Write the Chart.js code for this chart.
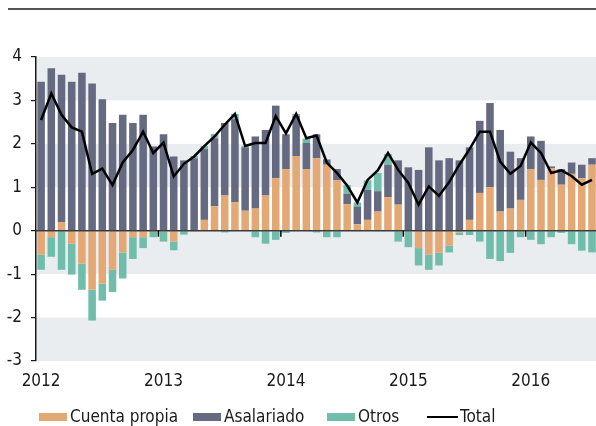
<!DOCTYPE html>
<html>
<head>
<meta charset="utf-8">
<script src="https://cdn.jsdelivr.net/npm/chart.js@4"></script>
<style>
  body { margin: 0; background: #fff; overflow: hidden; width: 596px; height: 426px; position: relative; }
  #chart { position: absolute; left: 0; top: 0; }
  .legend { position: absolute; top: 405px; left: 0; height: 22px; font-family: "Liberation Sans Narrow", "DejaVu Sans Condensed", Roboto, sans-serif; font-size: 17px; color: #1a1a1a; }
  .item { position: absolute; top: 0; display: flex; align-items: center; height: 22px; white-space: nowrap; }
  .box { width: 28px; height: 8px; margin-right: 3px; margin-top: 2px; }
  .ln { width: 31px; height: 2.5px; background: #000; margin-right: 2px; margin-top: 2px; }
</style>
</head>
<body>
<canvas id="chart" width="602" height="426"></canvas>
<div class="legend">
  <div class="item" style="left:39px"><span class="box" style="background:#e4a874"></span>Cuenta propia</div>
  <div class="item" style="left:193px"><span class="box" style="background:#656a80"></span>Asalariado</div>
  <div class="item" style="left:327px"><span class="box" style="background:#70bdac"></span>Otros</div>
  <div class="item" style="left:427px"><span class="ln"></span>Total</div>
</div>
<script>
const years = ['2012', '2013', '2014', '2015', '2016'];
const monthsInLastYear = 7;

// monthly contributions, Jan 2012 .. Jul 2016
const cuentaPropia = [
  -0.55, -0.15, 0.2, -0.3, -0.76, -1.36, -1.22, -0.9, -0.5, -0.15, -0.15, -0.03,
  -0.02, -0.25, 0, -0.02, 0.25, 0.56, 0.81, 0.66, 0.46, 0.51, 0.81, 1.21,
  1.42, 1.72, 1.42, 1.67, 1.52, 1.16, 0.61, 0.15, 0.25, 0.44, 0.77, 0.6,
  -0.02, -0.4, -0.55, -0.51, -0.34, -0.04, 0.25, 0.87, 1.0, 0.44, 0.51, 0.71,
  1.42, 1.17, 1.44, 1.06, 1.31, 1.21, 1.52
];
const asalariado = [
  3.43, 3.74, 3.39, 3.43, 3.64, 3.39, 3.03, 2.48, 2.67, 2.48, 2.67, 1.94,
  2.22, 1.71, 1.62, 1.67, 1.63, 1.57, 1.67, 1.91, 1.46, 1.66, 1.51, 1.67,
  0.8, 0.93, 0.6, 0.55, 0.12, 0.26, 0.24, 0.41, 0.69, 0.47, 0.75, 1.02,
  1.46, 1.4, 1.92, 1.62, 1.67, 1.62, 1.67, 1.66, 1.94, 1.88, 1.31, 0.96,
  0.75, 0.9, 0.04, 0.36, 0.26, 0.31, 0.15
];
const otros = [
  -0.35, -0.45, -0.9, -0.71, -0.6, -0.71, -0.39, -0.51, -0.6, -0.5, -0.25, -0.12,
  -0.23, -0.2, -0.09, 0.05, 0.07, 0.1, -0.04, 0.12, 0.03, -0.15, -0.3, -0.21,
  -0.05, 0.04, 0.1, -0.04, -0.15, -0.15, 0.2, 0.09, 0.22, 0.42, 0.25, -0.25,
  -0.36, -0.4, -0.35, -0.29, -0.16, -0.06, -0.1, -0.25, -0.65, -0.7, -0.51, -0.15,
  -0.21, -0.31, -0.15, -0.05, -0.31, -0.46, -0.5
];
const total = [
  2.55, 3.16, 2.67, 2.38, 2.28, 1.31, 1.43, 1.05, 1.57, 1.86, 2.28, 1.79,
  2.03, 1.25, 1.54, 1.71, 1.95, 2.17, 2.44, 2.69, 1.95, 2.02, 2.02, 2.64,
  2.24, 2.69, 2.13, 2.19, 1.57, 1.33, 1.04, 0.65, 1.17, 1.39, 1.79, 1.4,
  1.1, 0.6, 1.02, 0.8, 1.12, 1.52, 1.88, 2.28, 2.28, 1.59, 1.31, 1.49,
  2.03, 1.79, 1.33, 1.39, 1.26, 1.06, 1.17
];

const labels = [];
years.forEach((y, yi) => {
  const n = yi === years.length - 1 ? monthsInLastYear : 12;
  for (let m = 1; m <= n; m++) labels.push(y + '-' + String(m).padStart(2, '0'));
});

const FONT = '"Liberation Sans Narrow", "DejaVu Sans Condensed", Roboto, sans-serif';
Chart.defaults.font.family = FONT;
Chart.defaults.font.size = 17;
Chart.defaults.color = '#1a1a1a';

// grey bands behind the plot
const bandsPlugin = {
  id: 'bands',
  beforeDraw(chart) {
    const {ctx, chartArea, scales: {y}} = chart;
    ctx.save();
    ctx.fillStyle = '#eaedf0';
    [[3, 4], [1, 2], [-1, 0], [-3, -2]].forEach(([a, b]) => {
      const top = y.getPixelForValue(b), bot = y.getPixelForValue(a);
      ctx.fillRect(chartArea.left, top, chartArea.right - chartArea.left, bot - top);
    });
    ctx.restore();
  }
};

// zero line, year ticks and top rule
const extrasPlugin = {
  id: 'extras',
  afterDatasetsDraw(chart) {
    const {ctx, chartArea, scales: {x, y}} = chart;
    const y0 = y.getPixelForValue(0);
    ctx.save();
    ctx.strokeStyle = '#3a3a3a';
    ctx.lineWidth = 1.5;
    ctx.beginPath();
    ctx.moveTo(chartArea.left, y0);
    ctx.lineTo(chartArea.right, y0);
    ctx.stroke();
    ctx.strokeStyle = '#000';
    ctx.lineWidth = 1.5;
    for (let i = 12; i < labels.length; i += 12) {
      const xp = (x.getPixelForValue(i - 1) + x.getPixelForValue(i)) / 2;
      ctx.beginPath();
      ctx.moveTo(xp, y0);
      ctx.lineTo(xp, y0 + 6);
      ctx.stroke();
    }
    ctx.restore();
  },
  afterDraw(chart) {
    const ctx = chart.ctx;
    ctx.save();
    ctx.strokeStyle = '#1a1a1a';
    ctx.lineWidth = 1.5;
    ctx.beginPath();
    ctx.moveTo(8, 9);
    ctx.lineTo(chart.width, 9);
    ctx.stroke();
    ctx.restore();
  }
};

const barOpts = {barPercentage: 0.74, categoryPercentage: 1.0, stack: 'emp', order: 1, borderWidth: 0};

new Chart(document.getElementById('chart').getContext('2d'), {
  type: 'bar',
  data: {
    labels: labels,
    datasets: [
      {label: 'Total', type: 'line', data: total, borderColor: '#000', borderWidth: 2.5,
       pointRadius: 0, tension: 0, fill: false, stack: 'total', order: 0},
      {label: 'Cuenta propia', data: cuentaPropia, backgroundColor: '#e4a874', ...barOpts},
      {label: 'Asalariado', data: asalariado, backgroundColor: '#656a80', ...barOpts},
      {label: 'Otros', data: otros, backgroundColor: '#70bdac', ...barOpts}
    ]
  },
  options: {
    responsive: false,
    animation: false,
    layout: {padding: {top: 57, left: 0, right: 0, bottom: 0}},
    plugins: {legend: {display: false}, tooltip: {enabled: false}},
    scales: {
      x: {
        stacked: true,
        offset: true,
        grid: {display: false, drawTicks: false},
        border: {display: false},
        ticks: {
          autoSkip: false,
          maxRotation: 0,
          padding: 10,
          callback: function(value, index) {
            return index % 12 === 0 ? labels[index].slice(0, 4) : '';
          }
        },
        afterFit: (scale) => { scale.height = 65; }
      },
      y: {
        stacked: true,
        min: -3,
        max: 4,
        ticks: {stepSize: 1, padding: 9},
        grid: {drawOnChartArea: false, drawTicks: true, tickLength: 5, color: '#1a1a1a', lineWidth: 1.2},
        border: {display: true, color: '#1a1a1a', width: 1.5},
        afterFit: (scale) => { scale.width = 36; }
      }
    }
  },
  plugins: [bandsPlugin, extrasPlugin]
});
</script>
</body>
</html>
